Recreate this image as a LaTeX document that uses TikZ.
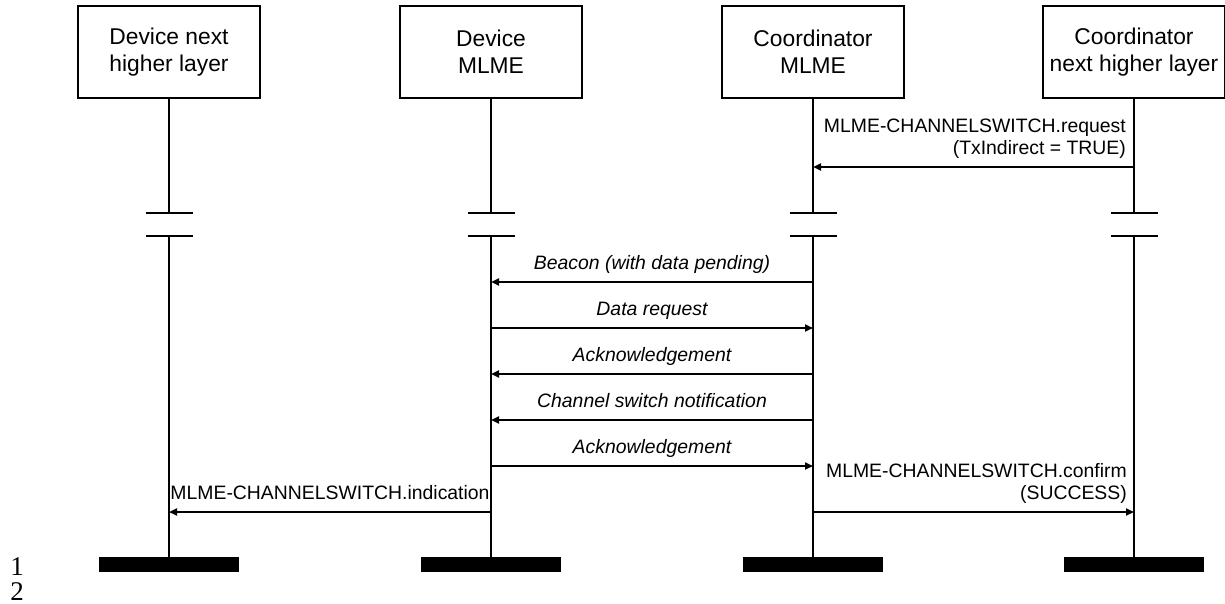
\documentclass[tikz,border=0pt]{standalone}
\usepackage{fontspec}
\setmainfont{Liberation Sans}
\newfontfamily\numfont{Liberation Serif}
\usetikzlibrary{arrows.meta}

\begin{document}
\begin{tikzpicture}[x=1pt,y=-1pt,
  every node/.style={inner sep=0pt, font=\fontsize{19.4}{23}\selectfont},
  entity/.style={draw, line width=2pt, minimum width=182pt, minimum height=92pt,
                 align=center, font=\fontsize{22.8}{27}\selectfont},
  life/.style={line width=2pt},
  breaktick/.style={line width=2pt},
  msg/.style={line width=2pt, -{Triangle[length=8pt,width=7pt]}},
  endbar/.style={fill=black, minimum width=140pt, minimum height=15pt},
  primlbl/.style={align=right, anchor=south east, font=\fontsize{19.4}{22.5}\selectfont},
  framelbl/.style={anchor=base, font=\fontsize{19.4}{23}\itshape\selectfont},
  linenum/.style={anchor=base, text height=18pt, text depth=0pt,
                  font=\numfont\fontsize{27}{27}\selectfont}
]
\useasboundingbox (0,0) rectangle (1225,604);

% participants
\node[entity] (h1) at (169,52)  {Device next\\higher layer};
\node[entity] (m1) at (491,52)  {Device\\MLME};
\node[entity] (m2) at (813,52)  {Coordinator\\MLME};
\node[entity] (h2) at (1134,52) {Coordinator\\next higher layer};

% end bars
\node[endbar] (e1) at (169,564.5)  {};
\node[endbar] (e2) at (491,564.5)  {};
\node[endbar] (e3) at (813,564.5)  {};
\node[endbar] (e4) at (1134,564.5) {};

% lifelines with a time break
\foreach \n/\e in {h1/e1, m1/e2, m2/e3, h2/e4} {
  \coordinate (\n-a) at (\n.south |- 0,213);
  \coordinate (\n-b) at (\n.south |- 0,236);
  \draw[life] (\n.south) -- (\n-a);
  \draw[life] (\n-b) -- (\e.north);
  \draw[breaktick] ([xshift=-23.5pt]\n-a) -- ([xshift=23.5pt]\n-a);
  \draw[breaktick] ([xshift=-23.5pt]\n-b) -- ([xshift=23.5pt]\n-b);
}

% primitive from the coordinator's next higher layer
\draw[msg] (h2 |- 0,167) -- (m2 |- 0,167);
\node[primlbl] (lreq) at (1126,159) {MLME-CHANNELSWITCH.request\\(TxIndirect = TRUE)};

% over-the-air frames
\draw[msg] (m2 |- 0,282) -- (m1 |- 0,282);
\node[framelbl] (lbeacon) at (652,269) {Beacon (with data pending)};
\draw[msg] (m1 |- 0,328) -- (m2 |- 0,328);
\node[framelbl] (ldata) at (652,315) {Data request};
\draw[msg] (m2 |- 0,374) -- (m1 |- 0,374);
\node[framelbl] (lack1) at (652,361) {Acknowledgement};
\draw[msg] (m2 |- 0,420) -- (m1 |- 0,420);
\node[framelbl] (lcsn) at (652,407) {Channel switch notification};
\draw[msg] (m1 |- 0,466) -- (m2 |- 0,466);
\node[framelbl] (lack2) at (652,453) {Acknowledgement};

% resulting primitives
\draw[msg] (m1 |- 0,512) -- (h1 |- 0,512);
\node[anchor=base] (lind) at (330,499) {MLME-CHANNELSWITCH.indication};
\draw[msg] (m2 |- 0,512) -- (h2 |- 0,512);
\node[primlbl] (lconf) at (1127,504) {MLME-CHANNELSWITCH.confirm\\(SUCCESS)};

% line numbers
\node[linenum] (ln1) at (17,575) {1};
\node[linenum] (ln2) at (17,600) {2};
\end{tikzpicture}
\end{document}
